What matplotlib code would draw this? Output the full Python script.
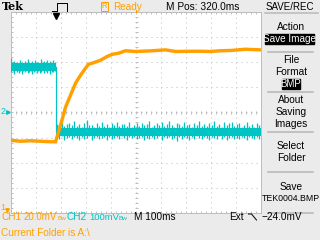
import numpy as np
import matplotlib
matplotlib.use("Agg")
import matplotlib.pyplot as plt
from matplotlib.lines import Line2D
from matplotlib.patches import Rectangle

# ---------------- data ----------------
# CH1 (orange), 20 mV/div, time relative to trigger in ms
ch1_t = [-180, -140, -100, -60, -20, 0, 12, 28, 40, 60, 80, 100, 120, 132, 152,
         180, 208, 228, 252, 280, 320, 380, 440, 480, 540, 580, 620, 660, 700, 760, 820]
ch1_mV = [67.8, 67.0, 67.4, 67.0, 66.6, 66.6, 74.2, 85.4, 94.2, 103.8, 113.4, 119.8,
          125.4, 128.6, 129.8, 131.8, 135.0, 136.6, 137.4, 139.4, 138.8, 139.3, 140.1,
          138.8, 139.0, 139.0, 138.8, 139.4, 139.6, 140.6, 140.1]

# CH2 (cyan), 100 mV/div: step
ch2_t = [-180, 0, 0, 820]
ch2_mV = [182, 182, -77, -77]

# CH2 noise envelope (peak excursions)
hi_t = [-177, -171, -165, -159, -153, -147, -141, -135, -129, -123, -117, -111, -105,
        -99, -93, -87, -81, -75, -69, -63, -57, -51, -45, -39, -33, -27, -21, -15, -9, -3]
hi_top = [218, 200, 206, 199, 203, 198, 210, 201, 197, 205, 199, 212, 200, 196, 204,
          199, 208, 201, 203, 198, 214, 202, 207, 200, 211, 197, 205, 199, 209, 202]
hi_bot = [160, 166, 155, 168, 162, 158, 167, 152, 164, 160, 169, 157, 163, 166, 155,
          161, 165, 159, 167, 158, 162, 170, 156, 164, 159, 168, 154, 163, 160, 166]
lo_t = [5, 15, 25, 35, 45, 55, 65, 75, 85, 95, 105, 115, 125, 135, 145, 155, 165, 175,
        185, 195, 205, 215, 225, 235, 245, 255, 265, 275, 285, 295, 305, 315, 325, 335,
        345, 355, 365, 375, 385, 395, 405, 415, 425, 435, 445, 455, 465, 475, 485, 495,
        505, 515, 525, 535, 545, 555, 565, 575, 585, 595, 605, 615, 625, 635, 645, 655,
        665, 675, 685, 695, 705, 715, 725, 735, 745, 755, 765, 775, 785, 795, 805, 815]
lo_top = [-45, -52, -38, -56, -48, -41, -50, -35, -54, -47,
          -58, -43, -31, -52, -49, -57, -44, -53, -40, -55,
          -46, -59, -42, -51, -37, -56, -48, -45, -53, -39,
          -58, -50, -44, -55, -41, -52, -47, -36, -57, -49,
          -43, -51, -39, -54, -46, -33, -50, -57, -42, -48,
          -55, -38, -52, -45, -59, -41, -49, -36, -53, -47,
          -56, -43, -50, -34, -54, -46, -58, -40, -51, -44,
          -37, -55, -48, -42, -57, -50, -39, -53, -45, -58,
          -41, -49]
lo_bot = [-98, -104, -95, -110, -100, -96, -107, -99, -102, -111,
          -97, -105, -100, -94, -108, -101, -97, -106, -103, -99,
          -109, -96, -104, -100, -98, -107, -95, -103, -110, -99,
          -101, -97, -106, -102, -96, -108, -100, -104, -98, -105,
          -101, -95, -109, -99, -103, -97, -106, -100, -112, -98,
          -104, -96, -102, -108, -99, -105, -94, -101, -107, -97,
          -103, -110, -98, -100, -106, -95, -104, -99, -109, -102,
          -96, -105, -100, -107, -98, -103, -111, -97, -101, -106,
          -99, -104]

menu_items = ["Action", "File\nFormat", "About\nSaving\nImages", "Select\nFolder", "Save"]

# ---------------- style ----------------
BG = "#EBEBEB"
ORANGE = "#FFA000"
CYAN = "#00C4C4"
GRID = "#BEBEBE"
PX = 0.72  # 1 pixel in points at dpi 100
FONT = "Liberation Sans"

W, H = 320, 240
fig = plt.figure(figsize=(3.2, 2.4), dpi=100, facecolor=BG)


def fx(x):
    return x / W


def fy(y):
    return 1 - y / H


def ftext(x, y, s, **kw):
    kw.setdefault("family", FONT)
    kw.setdefault("fontsize", 7)
    kw.setdefault("va", "center")
    fig.text(fx(x), fy(y), s, **kw)


def fline(xs, ys, **kw):
    fig.add_artist(Line2D([fx(v) for v in xs], [fy(v) for v in ys],
                          transform=fig.transFigure, **kw))


# screen axes
ax = fig.add_axes([fx(10.5), (H - 212.5) / H, 250 / W, 200 / H])
ax.set_facecolor("white")
ax.set_xlim(-180, 820)
ax.set_ylim(-400, 400)
ax.set_xticks(np.arange(-180, 821, 100))
ax.set_yticks(np.arange(-400, 401, 100))
ax.set_xticks(np.arange(-180, 821, 20), minor=True)
ax.set_yticks(np.arange(-400, 401, 20), minor=True)
ax.tick_params(which="both", direction="in", length=2 * PX, width=PX, color=GRID,
               top=True, right=True, labelbottom=False, labelleft=False)
for s in ax.spines.values():
    s.set_color(GRID)
    s.set_linewidth(PX)
ax.grid(which="major", color=GRID, lw=PX, ls=(0, (1, 4)))
ax.set_axisbelow(True)
# centre cross tick marks
xm = np.arange(-180, 821, 20)
ym = np.arange(-400, 401, 20)
ax.plot(xm, np.zeros_like(xm), ls="none", marker="|", ms=3 * PX, mew=PX, color=GRID, zorder=1)
ax.plot(np.full_like(ym, 320), ym, ls="none", marker="_", ms=3 * PX, mew=PX, color=GRID, zorder=1)

# CH2 cyan
ax.vlines(hi_t, hi_bot, hi_top, color=CYAN, lw=1.3 * PX, zorder=3)
ax.vlines(lo_t, lo_bot, lo_top, color=CYAN, lw=1.3 * PX, zorder=3)
ax.plot(ch2_t[:2], ch2_mV[:2], color=CYAN, lw=8 * PX, solid_capstyle="butt", zorder=3)
ax.plot(ch2_t[2:], ch2_mV[2:], color=CYAN, lw=8 * PX, solid_capstyle="butt", zorder=3)
ax.plot(ch2_t[1:3], ch2_mV[1:3], color=CYAN, lw=1.2 * PX, zorder=3)

# CH1 orange on twin axis
ax2 = ax.twinx()
ax2.set_ylim(10, 170)
ax2.axis("off")
ax2.plot(ch1_t, ch1_mV, color=ORANGE, lw=3.4 * PX, solid_joinstyle="miter", zorder=4)

# ---------------- top bar ----------------
ftext(2, 7, "Tek", family="DejaVu Serif", fontweight="bold", fontsize=8)
fline([52, 57, 57, 67, 67], [10.5, 10.5, 3, 3, 10.5], color="black", lw=PX)
fline([55.5, 55.5], [12.5, 15], color="black", lw=1.2 * PX)
fig.add_artist(Line2D([fx(55.5)], [fy(16.2)], marker="v", ms=5, color="black",
                      transform=fig.transFigure))
fig.add_artist(Rectangle((fx(100.5), fy(10.5)), 7.5 / W, 8.5 / H, fill=False,
                         ec=ORANGE, lw=PX, transform=fig.transFigure))
ftext(104.3, 6.5, "R", color=ORANGE, fontsize=5.5, ha="center")
ftext(113, 6.5, "Ready", color=ORANGE, fontsize=7.2)
ftext(203, 6.5, "M Pos: 320.0ms", color="black", fontsize=7.3, ha="center")
ftext(290, 6.5, "SAVE/REC", color="black", fontsize=7, ha="center")
fline([265, 318], [12.8, 12.8], color="#B8B8B8", lw=1.5 * PX)
fline([135.5, 135.5], [9.5, 12], color=ORANGE, lw=PX)

# ---------------- right menu ----------------
ftext(291, 26.5, menu_items[0], ha="center", fontsize=7.3)
fig.add_artist(Rectangle((fx(265), fy(43.5)), 49 / W, 9.5 / H, color="black",
                         transform=fig.transFigure))
ftext(289.5, 39, "Save Image", ha="center", color="white", fontsize=7.2)
ftext(291, 66, menu_items[1], ha="center", fontsize=7.3, linespacing=1.25)
fig.add_artist(Rectangle((fx(282), fy(89)), 17.5 / W, 10 / H, color="black",
                         transform=fig.transFigure))
ftext(290.8, 84, "BMP", ha="center", color="white", fontsize=7)
ftext(291, 112.3, menu_items[2], ha="center", fontsize=7.3, linespacing=1.25)
ftext(291, 152, menu_items[3], ha="center", fontsize=7.3, linespacing=1.25)
ftext(291, 186.7, menu_items[4], ha="center", fontsize=7.3)
ftext(290.5, 198.3, "TEK0004.BMP", ha="center", fontsize=6.3)
for ys in [52.3, 92.3, 132.3, 172.3, 212.5]:
    fline([268, 313], [ys, ys], color="#B4B4B4", lw=1.5 * PX)

# ---------------- markers left ----------------
ftext(0.5, 111.8, "2", color=CYAN, fontsize=6.5)
fig.add_artist(Line2D([fx(8)], [fy(112.3)], marker=">", ms=2.5, color=CYAN,
                      transform=fig.transFigure))
ftext(0.5, 207.5, "1", color=ORANGE, fontsize=6.5)
fig.add_artist(Line2D([fx(6.5)], [fy(210)], marker="v", ms=2.5, color=ORANGE,
                      transform=fig.transFigure))

# ---------------- bottom status ----------------
ftext(1, 217, "CH1", color=ORANGE, fontsize=7.2)
ftext(23.5, 217, "20.0mV", color=ORANGE, fontsize=7.0)
ftext(57.5, 218.5, "Bw", color=ORANGE, fontsize=4.6)
ftext(66.5, 217, "CH2", color=CYAN, fontsize=7.2)
ftext(89.5, 217, "100mV", color=CYAN, fontsize=6.8)
ftext(118.5, 218.5, "Bw", color=CYAN, fontsize=4.6)
ftext(134, 217, "M 100ms", color="black", fontsize=7.2)
ftext(229.5, 217, "Ext", color="black", fontsize=7.2)
fline([248.5, 251.5, 256.5], [214, 214, 220], color="black", lw=PX)
ftext(261, 217, "\u221224.0mV", color="black", fontsize=7.2)
ftext(1, 232.5, "Current Folder is A:\\", color=ORANGE, fontsize=7.2)

fig.savefig("out.png", dpi=100, facecolor=BG)
